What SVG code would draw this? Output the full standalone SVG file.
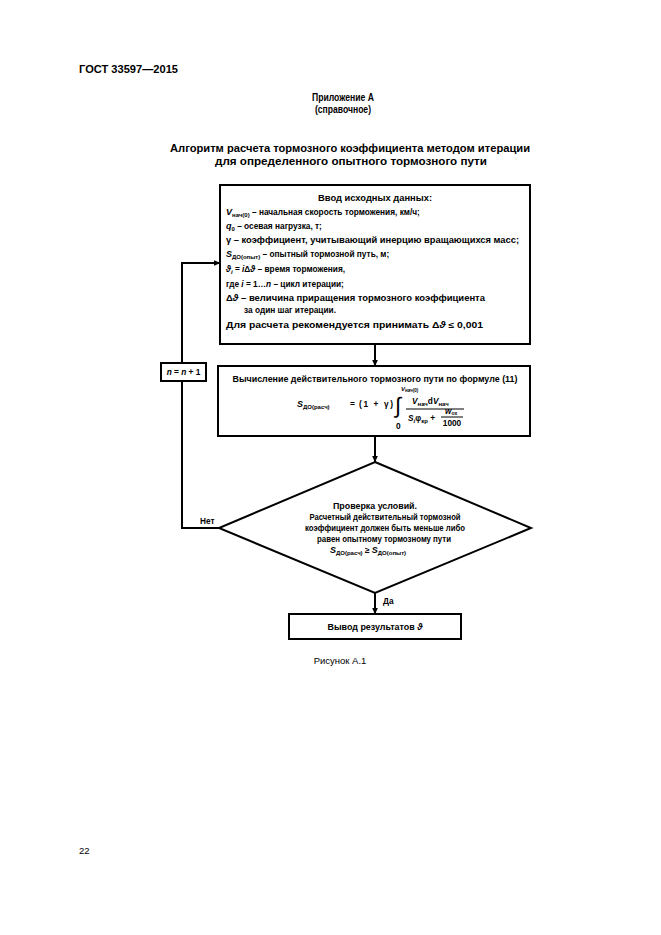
<svg xmlns="http://www.w3.org/2000/svg" width="661" height="935" viewBox="0 0 661 935">
<style>
text{font-family:"Liberation Sans",Arial,"DejaVu Sans",sans-serif;fill:#000}
.h{font-weight:bold;font-size:10.5px}
.r{font-size:9.5px}
.t{font-weight:bold;font-size:8.3px}
.s{font-size:6px}
.i{font-style:italic}
.box{fill:#fff;stroke:#000;stroke-width:2}
.ln{fill:none;stroke:#000;stroke-width:2}
.thin{fill:none;stroke:#000;stroke-width:1}
</style>
<defs>
<marker id="ah" markerWidth="7" markerHeight="6" refX="6.5" refY="3" orient="auto" markerUnits="userSpaceOnUse">
<path d="M0,0 L7,3 L0,6 Z" fill="#000"/>
</marker>
</defs>

<g id="header">
<text class="h" x="79" y="73" textLength="99" lengthAdjust="spacingAndGlyphs">ГОСТ 33597—2015</text>
<text class="h" x="343" y="101" text-anchor="middle" font-size="9.5" textLength="62" lengthAdjust="spacingAndGlyphs">Приложение А</text>
<text class="h" x="343" y="113" text-anchor="middle" font-size="9.5" textLength="56" lengthAdjust="spacingAndGlyphs">(справочное)</text>
<text class="h" x="170" y="152" textLength="360" lengthAdjust="spacingAndGlyphs">Алгоритм расчета тормозного коэффициента методом итерации</text>
<text class="h" x="215" y="165" textLength="272" lengthAdjust="spacingAndGlyphs">для определенного опытного тормозного пути</text>
</g>

<g id="connectors">
<line class="ln" x1="375" y1="344" x2="375" y2="366" marker-end="url(#ah)"/>
<line class="ln" x1="375" y1="436" x2="375" y2="462" marker-end="url(#ah)"/>
<line class="ln" x1="375" y1="593" x2="375" y2="614" marker-end="url(#ah)"/>
<polyline class="ln" points="219,528 182,528 182,381"/>
<polyline class="ln" points="182,363 182,263 220,263" marker-end="url(#ah)"/>
<text class="t" x="200" y="524">Нет</text>
<text class="t" x="383" y="604">Да</text>
</g>

<g id="input">
<rect class="box" x="220" y="185" width="310" height="159"/>
<text class="t" x="375" y="201" text-anchor="middle" textLength="114" lengthAdjust="spacingAndGlyphs">Ввод исходных данных:</text>
<text class="t" x="226" y="215"><tspan class="i" font-size="9">V</tspan><tspan class="s" dy="2">нач(0)</tspan><tspan dy="-2"> – начальная скорость торможения, км/ч;</tspan></text>
<text class="t" x="226" y="229"><tspan class="i" font-size="9">q</tspan><tspan class="s" dy="2">0</tspan><tspan dy="-2"> – осевая нагрузка, т;</tspan></text>
<text class="t" x="226" y="243" textLength="293" lengthAdjust="spacingAndGlyphs">γ – коэффициент, учитывающий инерцию вращающихся масс;</text>
<text class="t" x="226" y="257"><tspan class="i" font-size="9">S</tspan><tspan class="s" dy="2">ДО(опыт)</tspan><tspan dy="-2"> – опытный тормозной путь, м;</tspan></text>
<text class="t" x="226" y="272"><tspan class="i">ϑ</tspan><tspan class="s i" dy="2">i</tspan><tspan dy="-2"> = </tspan><tspan class="i">i</tspan><tspan>Δ</tspan><tspan class="i">ϑ</tspan><tspan> – время торможения,</tspan></text>
<text class="t" x="226" y="287">где <tspan class="i">i</tspan> = 1…<tspan class="i">n</tspan> – цикл итерации;</text>
<text class="t" x="226" y="301" textLength="259" lengthAdjust="spacingAndGlyphs">Δ<tspan class="i">ϑ</tspan> – величина приращения тормозного коэффициента</text>
<text class="t" x="244" y="313">за один шаг итерации.</text>
<text class="t" x="226" y="328" textLength="257" lengthAdjust="spacingAndGlyphs">Для расчета рекомендуется принимать Δ<tspan class="i">ϑ</tspan> ≤ 0,001</text>
</g>

<g id="loop">
<rect class="box" x="161" y="363" width="45" height="18"/>
<text class="t" x="183.5" y="375" text-anchor="middle"><tspan class="i">n</tspan> = <tspan class="i">n</tspan> + 1</text>
</g>

<g id="calc">
<rect class="box" x="218" y="366" width="312" height="70"/>
<text class="t" x="375" y="382" text-anchor="middle" textLength="285" lengthAdjust="spacingAndGlyphs">Вычисление действительного тормозного пути по формуле (11)</text>
<text class="t" x="297" y="407"><tspan class="i" font-size="9">S</tspan><tspan class="s" dy="2">ДО(расч)</tspan></text>
<text class="t" x="350" y="407" font-size="9">=</text>
<text class="t" x="359" y="407" font-size="9" textLength="34" lengthAdjust="spacing">(1 + γ)</text>
<text x="395" y="413" font-size="22" font-family="DejaVu Serif,serif">∫</text>
<text class="t" x="401" y="391"><tspan class="i s">V</tspan><tspan font-size="4.5" dy="1">нач(0)</tspan></text>
<text class="t" x="396" y="429" font-size="6">0</text>
<text class="t" x="412" y="404"><tspan class="i">V</tspan><tspan class="s" dy="2">нач</tspan><tspan dy="-2">d</tspan><tspan class="i">V</tspan><tspan class="s" dy="2">нач</tspan></text>
<line class="thin" x1="406" y1="409" x2="464" y2="409"/>
<text class="t" x="408" y="421"><tspan class="i">S</tspan><tspan class="s i" dy="2">i</tspan><tspan dy="-2">φ</tspan><tspan class="s" dy="2">кр</tspan><tspan dy="-2"> +</tspan></text>
<text class="t" x="445" y="414" font-size="7"><tspan class="i">w</tspan><tspan font-size="5" dy="1">ох</tspan></text>
<line class="thin" x1="441" y1="417" x2="463" y2="417"/>
<text class="t" x="452" y="426" text-anchor="middle" font-size="7.5">1000</text>
</g>

<g id="check">
<polygon class="box" points="375,462 531,528 375,593 219,528"/>
<text class="t" x="375" y="509" text-anchor="middle" textLength="84" lengthAdjust="spacingAndGlyphs">Проверка условий.</text>
<text class="t" x="385" y="520" text-anchor="middle" textLength="151" lengthAdjust="spacingAndGlyphs">Расчетный действительный тормозной</text>
<text class="t" x="385" y="531" text-anchor="middle" textLength="160" lengthAdjust="spacingAndGlyphs">коэффициент должен быть меньше либо</text>
<text class="t" x="384" y="542" text-anchor="middle" textLength="134" lengthAdjust="spacingAndGlyphs">равен опытному тормозному пути</text>
<text class="t" x="330" y="553"><tspan class="i" font-size="9">S</tspan><tspan class="s" dy="2">ДО(расч)</tspan><tspan dy="-2"> ≥ </tspan><tspan class="i" font-size="9">S</tspan><tspan class="s" dy="2">ДО(опыт)</tspan></text>
</g>

<g id="output">
<rect class="box" x="289" y="614" width="172" height="25"/>
<text class="t" x="375" y="630" text-anchor="middle" textLength="95" lengthAdjust="spacingAndGlyphs">Вывод результатов <tspan class="i">ϑ</tspan></text>
</g>

<g id="footer">
<text class="r" x="340" y="664" text-anchor="middle">Рисунок А.1</text>
<text class="r" x="79" y="854" font-size="10">22</text>
</g>
</svg>
